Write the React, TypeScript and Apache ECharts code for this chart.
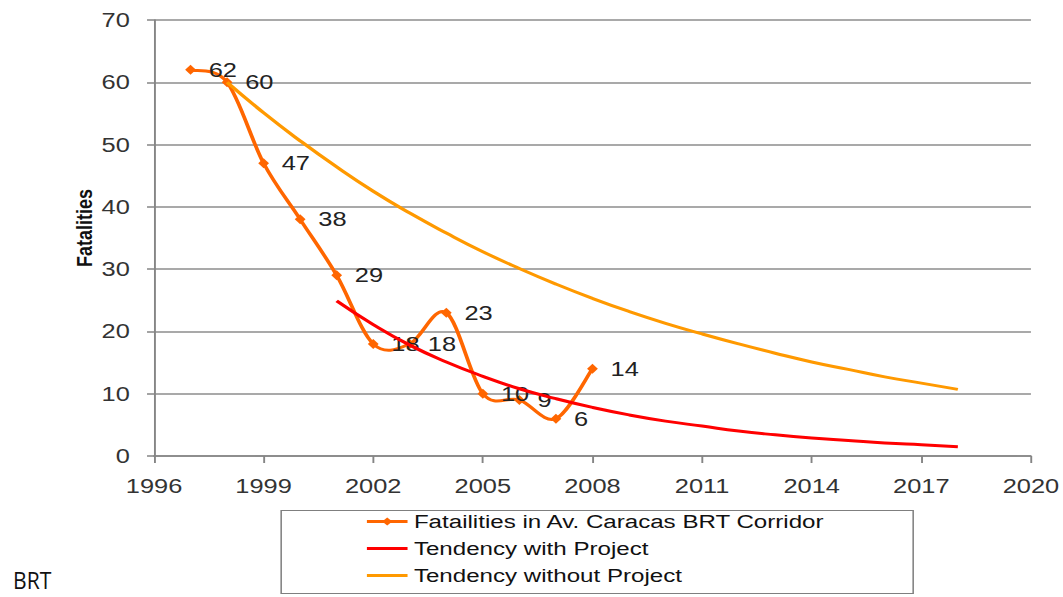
import React, { useEffect, useRef } from "react";
import * as echarts from "echarts";

// The reference picture is horizontally stretched; draw at a narrower width and scale in x.
const S = 1.27;
const W = 1063 / S;
const H = 597;

const xTickYears = [1996, 1999, 2002, 2005, 2008, 2011, 2014, 2017, 2020];
const BASE_YEAR = xTickYears[0];
const X_STEP = xTickYears[1] - xTickYears[0];

const years = [1997, 1998, 1999, 2000, 2001, 2002, 2003, 2004, 2005, 2006, 2007, 2008];
const fatalities = [62, 60, 47, 38, 29, 18, 18, 23, 10, 9, 6, 14];

const withProjectYears = [2001, 2002, 2003, 2004, 2005, 2006, 2007, 2008, 2009, 2010, 2011, 2012, 2013, 2014, 2015, 2016, 2017, 2018];
const withProject = [24.9, 21.1, 17.8, 15.1, 12.8, 10.8, 9.2, 7.8, 6.6, 5.6, 4.8, 4.0, 3.4, 2.9, 2.5, 2.1, 1.8, 1.5];

const withoutProjectYears = [1998, 1999, 2000, 2001, 2002, 2003, 2004, 2005, 2006, 2007, 2008, 2009, 2010, 2011, 2012, 2013, 2014, 2015, 2016, 2017, 2018];
const withoutProject = [60, 55.1, 50.6, 46.4, 42.5, 39.0, 35.8, 32.8, 30.1, 27.6, 25.3, 23.2, 21.3, 19.6, 18.0, 16.5, 15.1, 13.9, 12.7, 11.7, 10.7];

const seriesNames = [
  "Fatailities in Av. Caracas BRT Corridor",
  "Tendency with Project",
  "Tendency without Project",
];

const FONT = "'Liberation Sans', Arial, sans-serif";
const C_FAT = "#FF6600";
const C_WITH = "#FF0000";
const C_WITHOUT = "#FF9900";
const LINE_ICON = "path://M0,0 L32,0 L32,3 L0,3 Z";

export default function App() {
  const ref = useRef<HTMLDivElement>(null);
  useEffect(() => {
    document.body.style.margin = "0";
    const chart = echarts.init(ref.current as HTMLDivElement, null, {
      renderer: "svg",
      width: W,
      height: H,
    });
    const toXY = (ys: number[], vs: number[]) => ys.map((y, i) => [y - BASE_YEAR, vs[i]]);
    const fatPts = toXY(years, fatalities);
    const n = fatPts.length;

    chart.setOption({
      animation: false,
      backgroundColor: "#ffffff",
      textStyle: { fontFamily: FONT },
      grid: { left: 154 / S, right: W - 1031 / S, top: 20, bottom: H - 456, containLabel: false },
      xAxis: {
        type: "value",
        min: 0,
        max: xTickYears[xTickYears.length - 1] - BASE_YEAR,
        interval: X_STEP,
        axisLine: { show: true, lineStyle: { color: "#858585", width: 1.5 } },
        axisTick: { show: true, length: 7, lineStyle: { color: "#858585", width: 1.5 } },
        axisLabel: {
          margin: 20,
          fontSize: 20,
          color: "#333",
          fontFamily: FONT,
          formatter: (v: number) => String(v + BASE_YEAR),
        },
        splitLine: { show: false },
      },
      yAxis: {
        type: "value",
        min: 0,
        max: 70,
        interval: 10,
        axisLine: { show: true, lineStyle: { color: "#858585", width: 1.5 } },
        axisTick: { show: true, length: 5.5, lineStyle: { color: "#858585", width: 1.5 } },
        axisLabel: { margin: 19, fontSize: 20, color: "#333", fontFamily: FONT },
        splitLine: { show: true, lineStyle: { color: "#8c8c8c", width: 1.5 } },
      },
      legend: {
        orient: "vertical",
        left: 365 / S,
        top: 512,
        padding: 0,
        itemGap: 8,
        itemWidth: 32,
        itemHeight: 10,
        textStyle: { fontSize: 19, color: "#111", fontFamily: FONT },
        data: [
          { name: seriesNames[0], lineStyle: { opacity: 1, width: 3 } },
          { name: seriesNames[1], icon: LINE_ICON },
          { name: seriesNames[2], icon: LINE_ICON },
        ],
      },
      graphic: [
        {
          type: "rect",
          left: 278 / S,
          top: 508,
          shape: { x: 0, y: 0, width: (910 - 278) / S, height: 83 },
          style: { fill: "none", stroke: "#7f7f7f", lineWidth: 1.2 },
          silent: true,
        },
        {
          type: "text",
          x: 84 / S,
          y: 228,
          rotation: Math.PI / 2,
          style: {
            text: "Fatalities",
            fontSize: 18,
            fontWeight: "bold",
            fontFamily: FONT,
            fill: "#111",
            textAlign: "center",
            textVerticalAlign: "middle",
          },
        },
        {
          type: "text",
          x: 13 / S,
          y: 580,
          scaleX: 0.88 / S,
          style: {
            text: "BRT",
            fontSize: 24,
            fontFamily: "'Open Sans', 'Noto Sans', sans-serif",
            fill: "#111",
            textAlign: "left",
            textVerticalAlign: "middle",
          },
        },
      ],
      series: [
        {
          // smoothed (Catmull-Rom) curve through the fatality points
          name: "fatalities-curve",
          type: "custom",
          data: fatPts,
          encode: { x: 0, y: 1 },
          silent: true,
          z: 2,
          renderItem: (params: any, api: any) => {
            const i = params.dataIndex;
            if (i >= n - 1) return { type: "group", children: [] };
            const p = (k: number) => api.coord(fatPts[Math.max(0, Math.min(n - 1, k))]);
            const p0 = p(i - 1);
            const p1 = p(i);
            const p2 = p(i + 1);
            const p3 = p(i + 2);
            return {
              type: "bezierCurve",
              shape: {
                x1: p1[0],
                y1: p1[1],
                x2: p2[0],
                y2: p2[1],
                cpx1: p1[0] + (p2[0] - p0[0]) / 6,
                cpy1: p1[1] + (p2[1] - p0[1]) / 6,
                cpx2: p2[0] - (p3[0] - p1[0]) / 6,
                cpy2: p2[1] - (p3[1] - p1[1]) / 6,
              },
              style: { stroke: C_FAT, lineWidth: 3, fill: "none" },
            };
          },
        },
        {
          name: seriesNames[0],
          type: "line",
          data: fatPts,
          symbol: "diamond",
          symbolSize: [8.5, 10],
          itemStyle: { color: C_FAT },
          lineStyle: { color: C_FAT, width: 3, opacity: 0 },
          label: {
            show: true,
            position: "right",
            distance: 10,
            fontSize: 20,
            color: "#222",
            fontFamily: FONT,
            formatter: (p: any) => String(p.value[1]),
          },
          z: 3,
        },
        {
          name: seriesNames[1],
          type: "line",
          data: toXY(withProjectYears, withProject),
          smooth: true,
          symbol: "none",
          itemStyle: { color: C_WITH },
          lineStyle: { color: C_WITH, width: 3 },
          z: 4,
        },
        {
          name: seriesNames[2],
          type: "line",
          data: toXY(withoutProjectYears, withoutProject),
          smooth: true,
          symbol: "none",
          itemStyle: { color: C_WITHOUT },
          lineStyle: { color: C_WITHOUT, width: 3 },
          z: 4,
        },
      ],
    });
    return () => chart.dispose();
  }, []);
  return (
    <div
      style={{
        position: "absolute",
        left: 0,
        top: 0,
        width: 1063,
        height: 597,
        overflow: "hidden",
        background: "#fff",
      }}
    >
      <div
        ref={ref}
        style={{ width: W, height: H, transform: `scaleX(${S})`, transformOrigin: "0 0" }}
      />
    </div>
  );
}
